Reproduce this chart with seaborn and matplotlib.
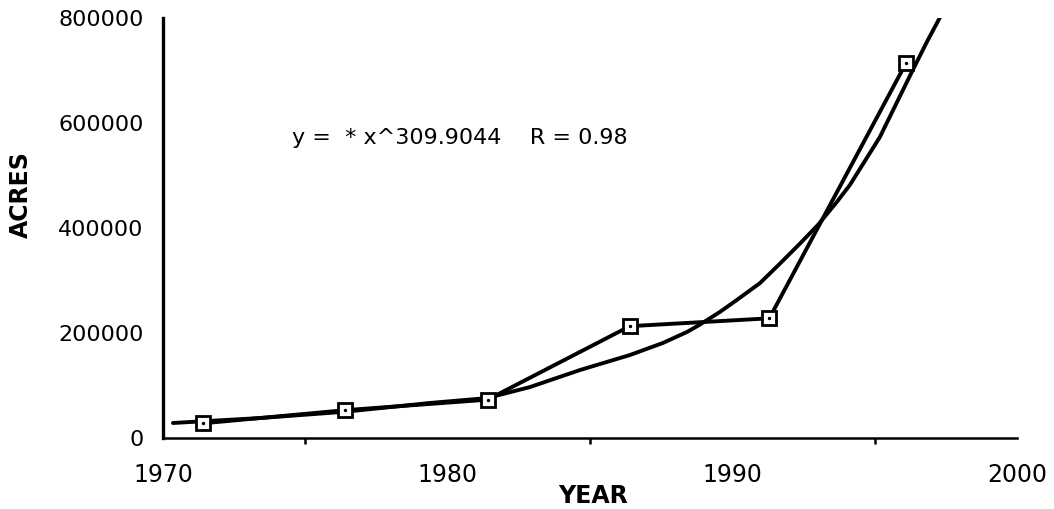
import numpy as np
import pandas as pd
import matplotlib
matplotlib.use('Agg')
import matplotlib.pyplot as plt
import seaborn as sns
from matplotlib.ticker import MultipleLocator

# dados
anos = [1971.4, 1976.4, 1981.4, 1986.4, 1991.3, 1996.1]
acres = [28000, 53000, 73000, 213000, 228000, 714000]

# curva ajustada (lida ponto a ponto)
ajuste_anos = [1970.35, 1973.41, 1976.39, 1979.38, 1981.38, 1982.89, 1984.65,
               1986.40, 1987.56, 1988.41, 1988.86, 1989.56, 1990.16, 1990.97,
               1991.67, 1992.37, 1993.01, 1993.67, 1994.13, 1995.18, 1996.34,
               1996.83, 1997.40]
ajuste_acres = [28600, 38000, 50000, 66700, 76000, 97000, 129500,
                158000, 181000, 202000, 216000, 240000, 263000, 295000,
                332000, 370000, 406000, 449500, 482000, 573000, 701000,
                754000, 812000]

texto_eq = "y =  * x^309.9044    R = 0.98"

sns.set_style('white')
plt.rcParams['font.family'] = ['DejaVu Sans']
plt.rcParams['text.color'] = 'black'
plt.rcParams['axes.labelcolor'] = 'black'

df = pd.DataFrame({'YEAR': anos, 'ACRES': acres})
df_fit = pd.DataFrame({'YEAR': ajuste_anos, 'ACRES': ajuste_acres})

fig = plt.figure(figsize=(10.54, 5.09), dpi=100)
ax = fig.add_axes([163 / 1054, 1 - 438 / 509, 854 / 1054, 420 / 509])

sns.lineplot(x='YEAR', y='ACRES', data=df_fit, ax=ax, color='black', linewidth=2.8)
sns.lineplot(x='YEAR', y='ACRES', data=df, ax=ax, color='black', linewidth=2.8,
             marker='s', markersize=9.5, markerfacecolor='white',
             markeredgecolor='black', markeredgewidth=2.0)
sns.scatterplot(x='YEAR', y='ACRES', data=df, ax=ax, color='black', s=6,
                linewidth=0, zorder=5)

ax.set_xlim(1970, 2000)
ax.set_ylim(0, 800000)
ax.xaxis.set_major_locator(MultipleLocator(10))
ax.xaxis.set_minor_locator(MultipleLocator(5))
ax.yaxis.set_major_locator(MultipleLocator(200000))
ax.ticklabel_format(axis='y', style='plain')

ax.spines['top'].set_visible(False)
ax.spines['right'].set_visible(False)
ax.spines['left'].set_linewidth(2.4)
ax.spines['left'].set_color('black')
ax.spines['bottom'].set_linewidth(1.8)
ax.spines['bottom'].set_color('black')

ax.tick_params(axis='y', which='major', direction='in', length=7.5, width=1.8,
               pad=14, labelsize=16, colors='black')
ax.tick_params(axis='x', which='major', direction='out', length=8, width=1.8,
               pad=10, labelsize=17, colors='black')
ax.tick_params(axis='x', which='minor', direction='out', length=4.5, width=1.8,
               bottom=True, colors='black')

ax.set_xlabel('YEAR', fontsize=17, fontweight='bold')
ax.set_ylabel('ACRES', fontsize=17, fontweight='bold')
ax.xaxis.set_label_coords(0.5035, -0.11)
ax.yaxis.set_label_coords(-0.152, 0.579)

ax.text(0.151, 0.714, texto_eq, transform=ax.transAxes, fontsize=16,
        va='center', ha='left', color='black')

fig.savefig('out.png', dpi=100)
plt.close()
